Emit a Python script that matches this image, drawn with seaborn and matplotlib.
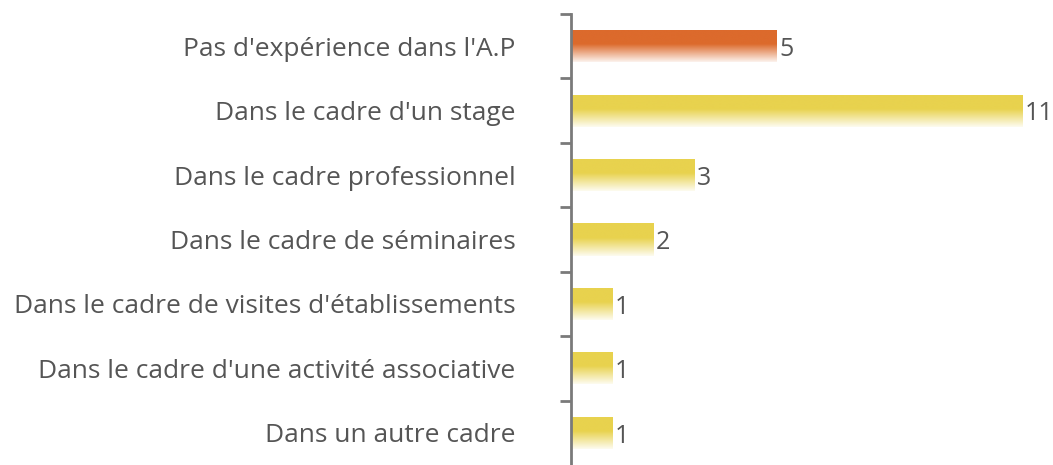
import numpy as np
import pandas as pd
import seaborn as sns
import matplotlib.pyplot as plt
from matplotlib.colors import LinearSegmentedColormap, to_rgb

# données
categories = [
    "Pas d'expérience dans l'A.P",
    "Dans le cadre d'un stage",
    "Dans le cadre professionnel",
    "Dans le cadre de séminaires",
    "Dans le cadre de visites d'établissements",
    "Dans le cadre d'une activité associative",
    "Dans un autre cadre",
]
valeurs = [5, 11, 3, 2, 1, 1, 1]
couleurs = ["#DC6A2C", "#E8D24E", "#E8D24E", "#E8D24E", "#E8D24E", "#E8D24E", "#E8D24E"]

df = pd.DataFrame({"categorie": categories, "valeur": valeurs})

sns.set_style("white")
plt.rcParams["font.family"] = ["Open Sans", "DejaVu Sans"]

fig = plt.figure(figsize=(10.53, 4.65), dpi=100)
ax = fig.add_axes([571 / 1053, 0, 1 - 571 / 1053, 1 - 14 / 465])

sns.barplot(data=df, x="valeur", y="categorie", hue="categorie", palette=couleurs,
            legend=False, width=0.5, ax=ax, saturation=1)

# dégradé vertical sur chaque barre
grad = np.linspace(0, 1, 256).reshape(-1, 1)
for patch, c in zip(ax.patches, couleurs):
    r, g, b = to_rgb(c)
    fin = (1 - (1 - r) * 0.08, 1 - (1 - g) * 0.08, 1 - (1 - b) * 0.08)
    cmap = LinearSegmentedColormap.from_list("g", [(0, (r, g, b)), (0.45, (r, g, b)), (1, fin)])
    x0, y0 = patch.get_x(), patch.get_y()
    w, h = patch.get_width(), patch.get_height()
    im = ax.imshow(grad, cmap=cmap, aspect="auto", extent=[x0, x0 + w, y0 + h, y0],
                   origin="upper", zorder=2)
    im.set_clip_path(patch)
    patch.set_facecolor("none")
    patch.set_edgecolor("none")
    ax.text(x0 + w + 0.07, y0 + h * 0.6, str(int(w)), va="center", ha="left",
            fontsize=18, color="#555555")

ax.set_xlim(0, 11.75)
ax.set_ylim(6.5, -0.5)
ax.set_xlabel("")
ax.set_ylabel("")
ax.set_xticks([])

for s in ["top", "right", "bottom"]:
    ax.spines[s].set_visible(False)
ax.spines["left"].set_color("#7a7a7a")
ax.spines["left"].set_linewidth(2)

ax.set_yticks(np.arange(-0.5, 6.5, 1), minor=True)
ax.tick_params(axis="y", which="minor", left=True, length=8, width=2, color="#7a7a7a", direction="out")
ax.tick_params(axis="y", which="major", left=False, length=0, pad=40, labelsize=19, labelcolor="#555555")

fig.savefig("out.png", dpi=100)
